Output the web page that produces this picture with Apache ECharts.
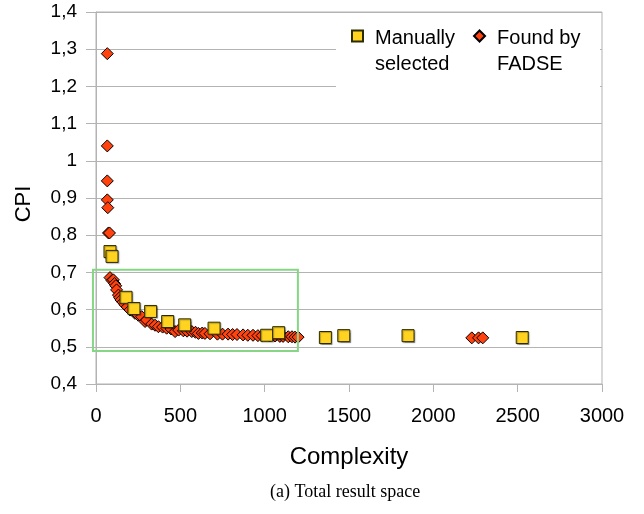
<!DOCTYPE html>
<html><head><meta charset="utf-8">
<script src="https://cdn.jsdelivr.net/npm/echarts@6/dist/echarts.min.js"></script>
<style>html,body{margin:0;padding:0;background:#fff}#c{width:644px;height:514px}</style>
</head><body><div id="c"></div>
<script>
var manualName = 'Manually\nselected';
var fadseName = 'Found by\nFADSE';
var manualData = [[83,0.756],[95,0.743],[178,0.633],[225,0.603],[324,0.595],[425,0.568],[526,0.559],[700,0.550],[1012,0.531],[1083,0.538],[1360,0.525],[1469,0.530],[1850,0.530],[2527,0.525]];
var fadseData = [[67,1.288],[67,1.040],[67,0.946],[67,0.895],[70,0.874],[74,0.806],[80,0.806],
 [83,0.686],[95,0.678],[103,0.680],[110,0.670],[117,0.664],[122,0.653],[133,0.639],[140,0.632],[148,0.626],[160,0.620],[172,0.613],[185,0.607],[202,0.599],[231,0.590],[250,0.585],[271,0.581],[291,0.568],[300,0.572],[330,0.561],[350,0.558],[370,0.554],[395,0.553],[419,0.550],[445,0.548],[469,0.541],[490,0.545],[518,0.543],[540,0.542],[568,0.541],[590,0.539],[607,0.536],[630,0.537],[646,0.536],[676,0.535],[720,0.534],[750,0.534],[783,0.534],[810,0.533],[836,0.533],[872,0.532],[900,0.531],[931,0.531],[960,0.530],[985,0.530],[1030,0.529],[1062,0.529],[1090,0.528],[1109,0.528],[1140,0.527],[1162,0.527],[1180,0.526],[1198,0.526],
 [2228,0.524],[2268,0.524],[2293,0.524]];
var xTicks = [0,500,1000,1500,2000,2500,3000];
var yTicks = [0.4,0.5,0.6,0.7,0.8,0.9,1.0,1.1,1.2,1.3,1.4];
var zoomBox = [[-18,0.489],[1197,0.707]];

var chart = echarts.init(document.getElementById('c'));
var FONT = '"Liberation Sans", Arial, sans-serif';
chart.setOption({
  animation:false,
  backgroundColor:'#fff',
  grid:{left:96,right:42,top:12,bottom:130,show:true,borderColor:'#b3b3b3',borderWidth:1},
  title:{text:'(a) Total result space',left:270,top:483,padding:0,
    textStyle:{fontFamily:'"Liberation Serif","Times New Roman",serif',fontSize:18,fontWeight:'normal',color:'#000'}},
  legend:{
    data:[manualName,fadseName],
    left:336, top:0, padding:[0,0,0,15], itemGap:18, itemWidth:11, itemHeight:11,
    formatter:function(n){var p=n.split('\n');return '{e| }\n{t|'+p[0]+'}\n{t|'+p[1]+'}';},
    textStyle:{fontFamily:FONT,fontSize:20,color:'#000',padding:[0,0,0,7],
      rich:{e:{fontSize:20,lineHeight:31},t:{fontFamily:FONT,fontSize:20,color:'#000',lineHeight:26}}}
  },
  xAxis:{type:'value',min:xTicks[0],max:xTicks[xTicks.length-1],interval:500,
    name:'Complexity',nameLocation:'middle',nameGap:61,
    nameTextStyle:{fontFamily:FONT,fontSize:24,color:'#000'},
    axisLine:{lineStyle:{color:'#b3b3b3'}},
    axisTick:{show:true,length:8,lineStyle:{color:'#b3b3b3'}},
    axisLabel:{fontFamily:FONT,fontSize:20,color:'#000',margin:22,formatter:function(v){return String(v);}},
    splitLine:{show:false}},
  yAxis:{type:'value',min:yTicks[0],max:yTicks[yTicks.length-1],interval:0.1,
    name:'CPI',nameLocation:'middle',nameGap:61,nameRotate:90,
    nameTextStyle:{fontFamily:FONT,fontSize:22,color:'#000',padding:[0,12,0,0]},
    axisLine:{show:true,lineStyle:{color:'#b3b3b3'}},
    axisTick:{show:true,length:10,lineStyle:{color:'#b3b3b3'}},
    axisLabel:{fontFamily:FONT,fontSize:19,color:'#000',margin:19,
      formatter:function(v){var s=(Math.round(v*10)/10).toString();return s.replace('.',',');}},
    splitLine:{show:true,lineStyle:{color:'#b3b3b3',width:1}}},
  series:[
    {name:fadseName,type:'scatter',symbol:'diamond',symbolSize:12,z:2,
     itemStyle:{color:'#ff420e',borderColor:'#000',borderWidth:1,opacity:1},
     data:fadseData},
    {name:manualName,type:'scatter',symbol:'rect',symbolSize:12,z:3,
     itemStyle:{color:'#ffd320',borderColor:'#2b2b00',borderWidth:1,opacity:1,
       shadowColor:'rgba(0,0,0,0.3)',shadowOffsetX:1,shadowOffsetY:1,shadowBlur:1},
     data:manualData}
  ]
});
var p0 = chart.convertToPixel({gridIndex:0}, zoomBox[0]);
var p1 = chart.convertToPixel({gridIndex:0}, zoomBox[1]);
chart.setOption({graphic:[
  {type:'rect',z:1,silent:true,shape:{x:336,y:14,width:264,height:74},style:{fill:'#fff'}},
  {type:'rect',z:5,silent:true,shape:{x:p0[0],y:p1[1],width:p1[0]-p0[0],height:p0[1]-p1[1]},
   style:{fill:'none',stroke:'#86d686',lineWidth:2}}
]});
</script></body></html>
